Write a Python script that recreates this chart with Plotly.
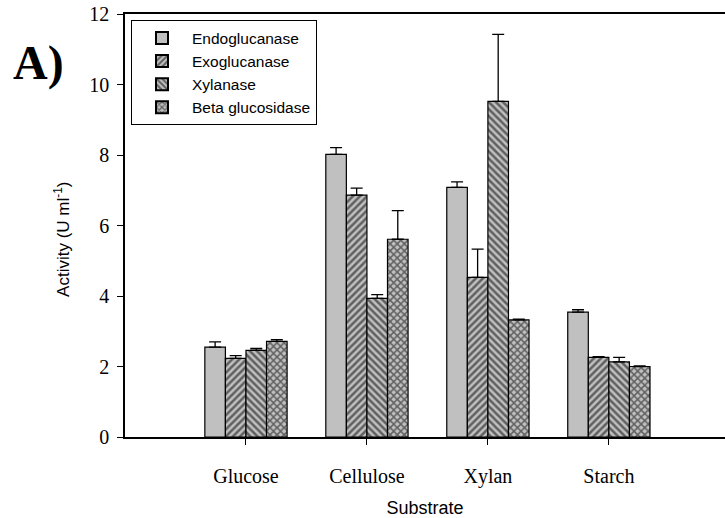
import plotly.graph_objects as go

substrates = ["Glucose", "Cellulose", "Xylan", "Starch"]
positions = [1, 2, 3, 4]
series_names = ["Endoglucanase", "Exoglucanase", "Xylanase", "Beta glucosidase"]
endo = [2.55, 8.02, 7.08, 3.54]
endo_err = [0.15, 0.19, 0.16, 0.07]
exo = [2.23, 6.86, 4.53, 2.26]
exo_err = [0.08, 0.20, 0.80, 0.02]
xyl = [2.46, 3.93, 9.52, 2.13]
xyl_err = [0.05, 0.11, 1.90, 0.13]
beta = [2.71, 5.61, 3.32, 2.00]
beta_err = [0.05, 0.81, 0.02, 0.02]

values = [endo, exo, xyl, beta]
errors = [endo_err, exo_err, xyl_err, beta_err]
patterns = ["", "/", "\\", "x"]

fig = go.Figure()
for name, v, e, p in zip(series_names, values, errors, patterns):
    fig.add_trace(go.Bar(
        x=positions, y=v, name=name,
        marker=dict(color="#c0c0c0", line=dict(color="black", width=1.2),
                    pattern=dict(shape=p, fgcolor="black", bgcolor="#c0c0c0",
                                 size=5, solidity=0.5, fillmode="overlay")),
        error_y=dict(type="data", symmetric=False, array=e, arrayminus=[0]*len(e),
                     color="black", thickness=1.3, width=6),
    ))

fig.update_layout(
    width=725, height=518,
    margin=dict(l=125, r=0, t=14, b=81),
    plot_bgcolor="white", paper_bgcolor="white",
    barmode="group", bargap=0.32, bargroupgap=0,
    showlegend=True,
    legend=dict(x=0.01, y=0.985, xanchor="left", yanchor="top",
                bgcolor="white", bordercolor="black", borderwidth=1,
                font=dict(family="Liberation Sans, Arial", size=15.5, color="black"),
                tracegroupgap=0, itemsizing="constant", itemwidth=50),
    font=dict(family="Liberation Serif, Times New Roman", color="black"),
)
fig.update_xaxes(
    range=[0, 4.96], tickmode="array", tickvals=positions, ticktext=substrates,
    showline=True, linecolor="black", linewidth=1.5, mirror=True,
    ticks="outside", ticklen=6, tickcolor="black",
    ticklabelstandoff=14,
    tickfont=dict(family="Liberation Serif, Times New Roman", size=20, color="black"),
    showgrid=False, zeroline=False,
    title=dict(text="Substrate", standoff=16,
               font=dict(family="Liberation Sans, Arial", size=18, color="black")),
)
fig.update_yaxes(
    range=[0, 12], tickvals=[0, 2, 4, 6, 8, 10, 12],
    showline=True, linecolor="black", linewidth=1.5,
    ticks="outside", ticklen=6, tickcolor="black",
    ticklabelstandoff=4,
    tickfont=dict(family="Liberation Serif, Times New Roman", size=20, color="black"),
    showgrid=False, zeroline=False,
)
fig.add_annotation(text="Activity (U ml<sup>-1</sup>)", xref="paper", yref="paper",
                   x=-0.105, y=0.466, xanchor="center", yanchor="middle",
                   textangle=-90, showarrow=False,
                   font=dict(family="Liberation Sans, Arial", size=17, color="black"))
fig.add_annotation(text="<b>A)</b>", xref="paper", yref="paper",
                   x=-0.19, y=0.884, xanchor="left", yanchor="middle",
                   showarrow=False,
                   font=dict(family="Liberation Serif, Times New Roman", size=48, color="black"))

fig.write_html("out.html")
